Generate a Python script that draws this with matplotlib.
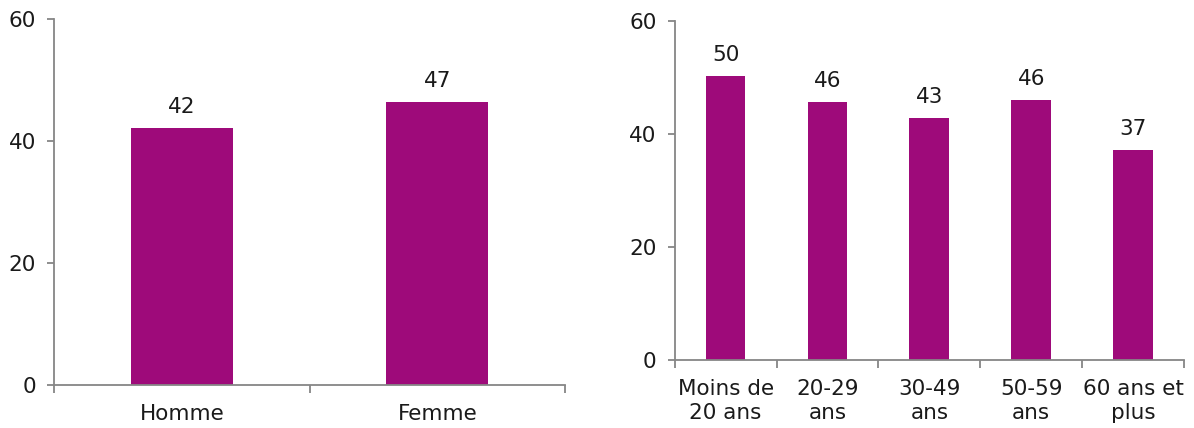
import matplotlib
matplotlib.use("Agg")
import matplotlib.pyplot as plt
import numpy as np

sexe_labels = ["Homme", "Femme"]
sexe_values = [42.1, 46.4]
sexe_text = ["42", "47"]

age_labels = ["Moins de\n20 ans", "20-29\nans", "30-49\nans", "50-59\nans", "60 ans et\nplus"]
age_values = [50.2, 45.6, 42.8, 46.0, 37.1]
age_text = ["50", "46", "43", "46", "37"]

yticks = [0, 20, 40, 60]

BAR = "#9E0A7A"
AX = "#868686"
TXT = "#1a1a1a"
FS = 15.5

plt.rcParams['font.family'] = ['DejaVu Sans']

fig = plt.figure(figsize=(11.94, 4.28), dpi=100)
ax1 = fig.add_axes([54/1194, 43/428, 511/1194, 366/428])
ax2 = fig.add_axes([674.7/1194, 68/428, 509.3/1194, 339/428])

def style(ax, labels, values, texts, width):
    n = len(labels)
    x = np.arange(n)
    ax.bar(x, values, width=width, color=BAR, zorder=2)
    for xi, v, t in zip(x, values, texts):
        ax.annotate(t, (xi, v), xytext=(0, 8), textcoords="offset points",
                    ha="center", va="bottom", fontsize=FS, color=TXT)
    ax.set_xlim(-0.5, n - 0.5)
    ax.set_ylim(0, 60)
    ax.set_yticks(yticks)
    ax.set_xticks(np.arange(n + 1) - 0.5)
    ax.set_xticklabels([])
    ax.set_xticks(x, minor=True)
    ax.set_xticklabels(labels, minor=True, fontsize=FS, color=TXT, linespacing=1.25)
    ax.tick_params(axis="x", which="minor", length=0, pad=14)
    ax.tick_params(axis="x", which="major", length=6, color=AX, width=1.3)
    ax.tick_params(axis="y", length=5, color=AX, width=1.3, labelsize=FS, labelcolor=TXT, pad=8)
    for s in ["top", "right"]:
        ax.spines[s].set_visible(False)
    for s in ["left", "bottom"]:
        ax.spines[s].set_color(AX)
        ax.spines[s].set_linewidth(1.3)

style(ax1, sexe_labels, sexe_values, sexe_text, 0.4)
style(ax2, age_labels, age_values, age_text, 0.39)

fig.savefig("out.png", dpi=100)
